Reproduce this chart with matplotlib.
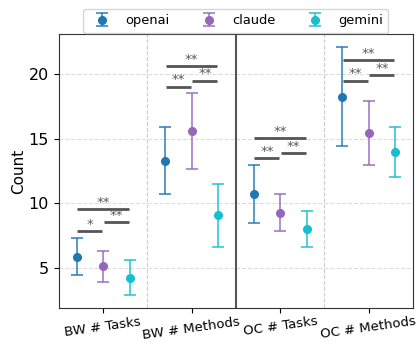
import matplotlib.pyplot as plt
import numpy as np

categories = ["BW # Tasks", "BW # Methods", "OC # Tasks", "OC # Methods"]
models = ["openai", "claude", "gemini"]
colors = ["#1f77b4", "#9467bd", "#17becf"]

means = {
    "openai": [5.88, 13.29, 10.74, 18.26],
    "claude": [5.13, 15.58, 9.28, 15.45],
    "gemini": [4.23, 9.07, 8.01, 13.99],
}
errors = {
    "openai": [1.41, 2.59, 2.26, 3.86],
    "claude": [1.21, 2.92, 1.42, 2.45],
    "gemini": [1.35, 2.45, 1.39, 1.93],
}

# significance annotations per category
sig_pairs = [(0, 1), (1, 2), (0, 2)]
sig_labels = [
    ["*", "**", "**"],
    ["**", "**", "**"],
    ["**", "**", "**"],
    ["**", "**", "**"],
]
sig_levels = [
    [7.86, 8.53, 9.53],
    [19.03, 19.49, 20.63],
    [13.47, 13.88, 15.07],
    [19.49, 19.90, 21.08],
]

fig, ax = plt.subplots(figsize=(4.2, 3.43), dpi=100)
fig.subplots_adjust(left=0.14, right=0.983, top=0.901, bottom=0.102)

x = np.arange(len(categories))
offsets = [-0.3, 0.0, 0.3]

handles = []
for model, color, off in zip(models, colors, offsets):
    h = ax.errorbar(
        x + off,
        means[model],
        yerr=errors[model],
        fmt="o",
        color=color,
        ecolor=color,
        elinewidth=1.3,
        capsize=4,
        capthick=1.3,
        markersize=5.5,
        label=model,
    )
    for line in h.lines[1] + h.lines[2]:
        line.set_alpha(0.8)
    handles.append(h)

for k, (levels, labels) in enumerate(zip(sig_levels, sig_labels)):
    for (i, j), lvl, lab in zip(sig_pairs, levels, labels):
        x0 = k + offsets[i] + 0.01
        x1 = k + offsets[j] - 0.01
        ax.plot([x0, x1], [lvl, lvl], color="#555555", linewidth=2.0, solid_capstyle="butt")
        ax.text((x0 + x1) / 2, lvl + 0.02, lab, ha="center", va="bottom",
                fontsize=9.5, color="#5a5a5a")

ax.axvline(0.5, color="#cccccc", linestyle="--", linewidth=0.8, zorder=0)
ax.axvline(2.5, color="#cccccc", linestyle="--", linewidth=0.8, zorder=0)
ax.axvline(1.5, color="#555555", linestyle="-", linewidth=1.5, zorder=1)
ax.yaxis.grid(True, linestyle="--", color="#dddddd", linewidth=0.8)
ax.set_axisbelow(True)

ax.set_xlim(-0.5, 3.5)
ax.set_ylim(1.9, 23.1)
ax.set_yticks([5, 10, 15, 20])
ax.set_xticks(x)
ax.set_xticklabels(categories, rotation=8, fontsize=9.5)
ax.tick_params(axis="y", labelsize=11.5)
ax.tick_params(axis="x", pad=1.5)
ax.set_ylabel("Count", fontsize=11, labelpad=2)
for spine in ax.spines.values():
    spine.set_color("#333333")

ax.legend(handles=handles, labels=models, loc="lower center",
          bbox_to_anchor=(0.5, 1.005), ncol=3, fontsize=9.4,
          columnspacing=2.0, borderaxespad=0.0)

fig.savefig("out.png", dpi=100)
